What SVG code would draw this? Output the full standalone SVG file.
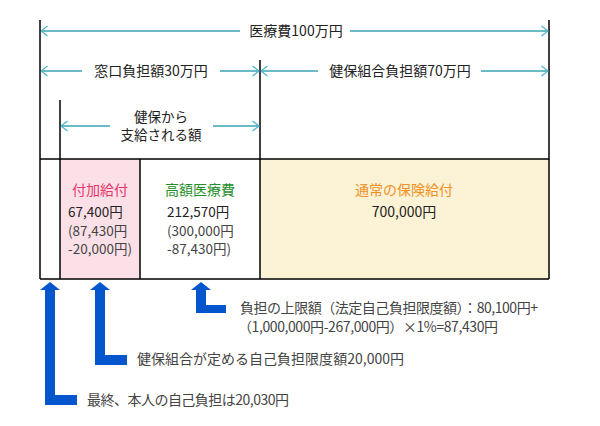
<svg xmlns="http://www.w3.org/2000/svg" width="600" height="426" viewBox="0 0 600 426">
<defs>
<marker id="ah" viewBox="0 0 8 12" refX="7.5" refY="6" markerWidth="8" markerHeight="12" markerUnits="userSpaceOnUse" orient="auto-start-reverse">
<path d="M1,1 L7.5,6 L1,11" fill="none" stroke="#4cb8cc" stroke-width="1.3"/>
</marker>
</defs>
<style>
text{font-family:"Noto Sans CJK JP","Noto Sans",sans-serif;font-size:14px;fill:#222}
.c{text-anchor:middle}
.g{fill:#444}
.s{font-size:13.5px}
.frame{stroke:#000;stroke-width:1.5;fill:none}
.dim{stroke:#3aa3b5;stroke-width:1.3;fill:none}
.blue{fill:#0556cc}
</style>
<rect width="600" height="426" fill="#fff"/>
<g id="cells">
<rect x="60" y="159" width="80" height="120" fill="#fbe1e7"/>
<rect x="260" y="159" width="289" height="120" fill="#fcf3d6"/>
</g>
<g id="frame">
<line class="frame" x1="40" y1="20" x2="40" y2="279"/>
<line class="frame" x1="549" y1="20" x2="549" y2="279"/>
<line class="frame" x1="260" y1="60" x2="260" y2="279"/>
<line class="frame" x1="60" y1="100" x2="60" y2="279"/>
<line class="frame" x1="140" y1="159" x2="140" y2="279"/>
<line class="frame" x1="40" y1="159" x2="549" y2="159"/>
<line class="frame" x1="40" y1="279" x2="549" y2="279"/>
</g>
<g id="connectors">
<line class="dim" x1="240" y1="31" x2="41" y2="31" marker-end="url(#ah)"/>
<line class="dim" x1="350" y1="31" x2="548" y2="31" marker-end="url(#ah)"/>
<line class="dim" x1="82" y1="71" x2="41" y2="71" marker-end="url(#ah)"/>
<line class="dim" x1="220" y1="71" x2="259" y2="71" marker-end="url(#ah)"/>
<line class="dim" x1="318" y1="71" x2="261" y2="71" marker-end="url(#ah)"/>
<line class="dim" x1="481" y1="71" x2="548" y2="71" marker-end="url(#ah)"/>
<line class="dim" x1="110" y1="126" x2="61" y2="126" marker-end="url(#ah)"/>
<line class="dim" x1="213" y1="126" x2="259" y2="126" marker-end="url(#ah)"/>
</g>
<g id="dim-labels">
<text class="c" x="296" y="36">医療費100万円</text>
<text class="c" x="151" y="76">窓口負担額30万円</text>
<text class="c" x="400" y="76">健保組合負担額70万円</text>
<text class="c s" x="161" y="122">健保から</text>
<text class="c s" x="161" y="140">支給される額</text>
</g>
<g id="node-fuka">
<text class="c" x="100" y="195" style="fill:#e8336b">付加給付</text>
<text class="s" x="68" y="217">67,400円</text>
<text class="g s" x="68" y="236">(87,430円</text>
<text class="g s" x="68" y="254">-20,000円)</text>
</g>
<g id="node-kougaku">
<text class="c" x="200" y="195" style="fill:#1f8f2a">高額医療費</text>
<text class="s" x="167" y="217">212,570円</text>
<text class="g s" x="167" y="236">(300,000円</text>
<text class="g s" x="167" y="254">-87,430円)</text>
</g>
<g id="node-tsujo">
<text class="c" x="404" y="195" style="fill:#f0901e">通常の保険給付</text>
<text class="c" x="404" y="217">700,000円</text>
</g>
<g id="callout-1">
<path class="blue" d="M201,282 L211,290 L206,290 L206,305 L226,305 L226,313 L196,313 L196,290 L191,290 Z"/>
<text class="g" x="240" y="313" textLength="298" lengthAdjust="spacing">負担の上限額（法定自己負担限度額）：80,100円+</text>
<text class="g" x="238" y="332" textLength="260" lengthAdjust="spacing">（1,000,000円-267,000円）×1%=87,430円</text>
</g>
<g id="callout-2">
<path class="blue" d="M100,282 L110,290 L105,290 L105,355 L127,355 L127,365 L95,365 L95,290 L90,290 Z"/>
<text class="g" x="137" y="364" textLength="267" lengthAdjust="spacing">健保組合が定める自己負担限度額20,000円</text>
</g>
<g id="callout-3">
<path class="blue" d="M50,282 L60,290 L55,290 L55,395 L77,395 L77,405 L45,405 L45,290 L40,290 Z"/>
<text class="g" x="87" y="405" textLength="202" lengthAdjust="spacing">最終、本人の自己負担は20,030円</text>
</g>
</svg>
